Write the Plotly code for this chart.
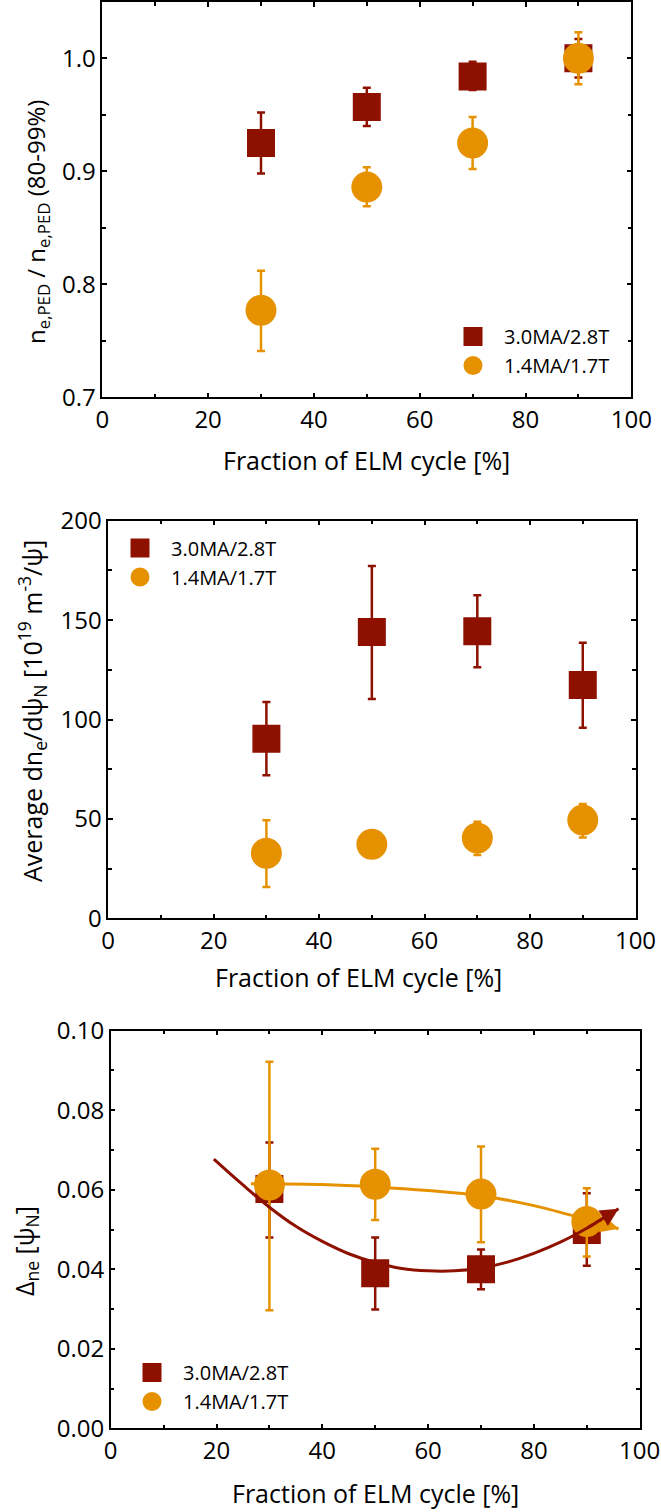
import plotly.graph_objects as go

# ---------------- data ----------------
frac = [30, 50, 70, 90]

# panel 1: n_e,PED / n_e,PED(80-99%)
p1_hi = [0.925, 0.957, 0.984, 1.000]
p1_hi_up = [0.952, 0.974, 0.997, 1.017]
p1_hi_lo = [0.898, 0.940, 0.972, 0.983]
p1_lo = [0.777, 0.886, 0.925, 1.000]
p1_lo_up = [0.812, 0.9035, 0.948, 1.023]
p1_lo_lo = [0.741, 0.869, 0.902, 0.977]

# panel 2: average dn_e/dpsi_N
p2_hi = [90.3, 144.0, 144.4, 117.4]
p2_hi_up = [108.8, 177.2, 162.5, 138.6]
p2_hi_lo = [71.9, 110.3, 126.3, 95.9]
p2_lo = [32.7, 37.2, 40.4, 49.4]
p2_lo_up = [49.3, 43.0, 48.6, 57.5]
p2_lo_lo = [15.7, 31.5, 31.8, 40.7]

# panel 3: Delta_ne [psi_N]
p3_hi = [0.0602, 0.0390, 0.0400, 0.0499]
p3_hi_up = [0.0719, 0.0480, 0.0450, 0.0591]
p3_hi_lo = [0.0480, 0.0299, 0.0350, 0.0409]
p3_lo = [0.0612, 0.0614, 0.0589, 0.0520]
p3_lo_up = [0.0922, 0.0703, 0.0709, 0.0604]
p3_lo_lo = [0.0297, 0.0524, 0.0468, 0.0432]

# trend curves in panel 3
fit_hi_x = [19.5, 25, 30, 35, 40, 45, 50, 55, 60, 65, 70, 75, 80, 85, 90, 96]
fit_hi_y = [0.0677, 0.0612, 0.0556, 0.0508, 0.0470, 0.0439, 0.0417, 0.0402,
            0.0396, 0.0396, 0.0403, 0.0418, 0.0440, 0.0468, 0.0503, 0.0552]
fit_lo_x = [26.5, 30, 40, 50, 60, 70, 80, 90, 96]
fit_lo_y = [0.0615, 0.0615, 0.0613, 0.0607, 0.0598, 0.0585, 0.0560, 0.0525, 0.0502]

names = ["3.0MA/2.8T", "1.4MA/1.7T"]
RED = "#8E1100"
ORANGE = "#E69200"
FONT = "Open Sans"

fig = go.Figure()


def err(vals, up, lo):
    return dict(type="data", symmetric=False,
                array=[u - v for u, v in zip(up, vals)],
                arrayminus=[v - l for v, l in zip(vals, lo)])


def add_pair(xa, ya, leg, hi, hi_up, hi_lo, lo, lo_up, lo_lo):
    fig.add_trace(go.Scatter(
        x=frac, y=hi, mode="markers", name=names[0], xaxis=xa, yaxis=ya,
        legend=leg, legendgroup=leg + "a",
        marker=dict(symbol="square", size=25, color=RED,
                    line=dict(color=RED, width=3)),
        error_y=dict(**err(hi, hi_up, hi_lo), color=RED, thickness=2.5, width=4)))
    fig.add_trace(go.Scatter(
        x=frac, y=lo, mode="markers", name=names[1], xaxis=xa, yaxis=ya,
        legend=leg, legendgroup=leg + "b",
        marker=dict(symbol="circle", size=28, color=ORANGE,
                    line=dict(color=ORANGE, width=3)),
        error_y=dict(**err(lo, lo_up, lo_lo), color=ORANGE, thickness=2.5, width=4)))


add_pair("x", "y", "legend", p1_hi, p1_hi_up, p1_hi_lo, p1_lo, p1_lo_up, p1_lo_lo)
add_pair("x2", "y2", "legend2", p2_hi, p2_hi_up, p2_hi_lo, p2_lo, p2_lo_up, p2_lo_lo)
add_pair("x3", "y3", "legend3", p3_hi, p3_hi_up, p3_hi_lo, p3_lo, p3_lo_up, p3_lo_lo)

fig.add_trace(go.Scatter(x=fit_lo_x, y=fit_lo_y, mode="lines", xaxis="x3", yaxis="y3",
                         line=dict(color=ORANGE, width=3, shape="spline"), showlegend=False))
fig.add_trace(go.Scatter(x=fit_hi_x, y=fit_hi_y, mode="lines", xaxis="x3", yaxis="y3",
                         line=dict(color=RED, width=3, shape="spline"), showlegend=False))

# arrow heads at the ends of the trend curves
for fx, fy, col in [(fit_lo_x, fit_lo_y, ORANGE), (fit_hi_x, fit_hi_y, RED)]:
    fig.add_annotation(x=fx[-1], y=fy[-1], ax=fx[-2], ay=fy[-2], xref="x3", yref="y3",
                       axref="x3", ayref="y3", showarrow=True, arrowhead=2,
                       arrowsize=1.2, arrowwidth=3, arrowcolor=col, text="")


def axis(domain, rng, dtick, minor_dtick, anchor, fmt=None):
    d = dict(domain=domain, range=rng, dtick=dtick, tick0=rng[0] if fmt else 0,
             anchor=anchor, showline=True, linecolor="black", linewidth=1.5,
             mirror="allticks", ticks="inside", ticklen=5, tickwidth=1.5,
             tickcolor="black", showgrid=False, zeroline=False, automargin=False,
             tickfont=dict(family=FONT, size=24, color="black"),
             minor=dict(ticks="inside", ticklen=4, tickwidth=1.5, tickcolor="black",
                        dtick=minor_dtick, showgrid=False))
    if fmt:
        d["tickformat"] = fmt
    return d


W, H = 661, 1512
xd1 = [102.3 / W, 631.3 / W]
xd2 = [108.2 / W, 635.5 / W]
xd3 = [110.7 / W, 639.7 / W]
yd1 = [1 - 397.3 / H, 1 - 1.8 / H]
yd2 = [1 - 918.3 / H, 1 - 520.7 / H]
yd3 = [1 - 1428.3 / H, 1 - 1030.7 / H]

leg_common = dict(font=dict(family=FONT, size=20, color="black"), bgcolor="rgba(0,0,0,0)",
                  borderwidth=0, xanchor="left", yanchor="top", tracegroupgap=0,
                  traceorder="grouped", itemwidth=52)

fig.update_layout(
    width=W, height=H, margin=dict(l=0, r=0, t=0, b=0),
    paper_bgcolor="white", plot_bgcolor="white",
    showlegend=True,
    xaxis=axis(xd1, [0, 100], 20, 10, "y"),
    yaxis=axis(yd1, [0.7, 1.05], 0.1, 0.05, "x", ".1f"),
    xaxis2=axis(xd2, [0, 100], 20, 10, "y2"),
    yaxis2=axis(yd2, [0, 200], 50, 25, "x2"),
    xaxis3=axis(xd3, [0, 100], 20, 10, "y3"),
    yaxis3=axis(yd3, [0, 0.1], 0.02, 0.01, "x3", ".2f"),
    legend=dict(x=442 / W, y=1 - 317 / H, **leg_common),
    legend2=dict(x=109 / W, y=1 - 528.5 / H, **leg_common),
    legend3=dict(x=121 / W, y=1 - 1353 / H, **leg_common),
)

xfont = dict(family=FONT, size=25, color="black")
xt = "Fraction of ELM cycle [%]"
for cx, cy in [(366, 460), (358, 977), (375, 1493)]:
    fig.add_annotation(text=xt, x=cx / W, y=1 - cy / H, xref="paper", yref="paper",
                       showarrow=False, font=xfont, xanchor="center", yanchor="middle")

ytitles = [
    ("n<sub>e,PED</sub> / n<sub>e,PED</sub> (80-99%)", 37, 222, 24),
    ("Average dn<sub>e</sub>/dψ<sub>N</sub> [10<sup>19</sup> m<sup>-3</sup>/ψ]", 32, 711, 25),
    ("Δ<sub>ne</sub> [ψ<sub>N</sub>]", 25, 1251, 25),
]
for t, cx, cy, fs in ytitles:
    fig.add_annotation(text=t, x=cx / W, y=1 - cy / H, xref="paper", yref="paper",
                       showarrow=False, font=dict(family=FONT, size=fs, color="black"),
                       textangle=-90, xanchor="center", yanchor="middle")

fig.write_html("out.html")
